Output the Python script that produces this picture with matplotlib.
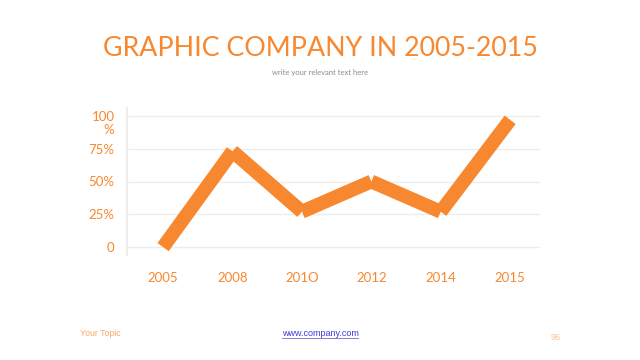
"""Recreate the orange line chart slide."""

import matplotlib.pyplot as plt
import matplotlib.transforms as mtransforms

years = ["2005", "2008", "201O", "2012", "2014", "2015"]
values = [0, 73, 27, 50, 27, 97]
y_ticks = [0, 25, 50, 75, 100]
y_tick_labels = ["0", "25%", "50%", "75%", "100\n%"]

ORANGE = "#F7882F"
GRID = "#EDEDED"

plt.rcParams["font.family"] = ["Lato", "DejaVu Sans"]

fig = plt.figure(figsize=(6.4, 3.6), dpi=100)
ax = fig.add_axes([127 / 640, 1 - 255 / 360, (540 - 127) / 640, (255 - 108) / 360])

xs = list(range(len(years)))
# draw each segment separately so joints show the notched look
for i in range(len(xs) - 1):
    ax.plot(xs[i:i + 2], values[i:i + 2], color=ORANGE, lw=10,
            solid_capstyle="butt", zorder=3)

ax.set_xlim(-0.52, 5.43)
ax.set_ylim(-6, 106)
ax.set_yticks(y_ticks)
ax.set_yticklabels(y_tick_labels)
ax.set_xticks(xs)
ax.set_xticklabels(years)
ax.tick_params(axis="both", length=0, colors=ORANGE, labelsize=9.5)
ax.tick_params(axis="y", pad=9)
ax.tick_params(axis="x", pad=12)
ax.grid(axis="y", color=GRID, lw=1)
ax.set_axisbelow(True)
for side in ["top", "right", "bottom"]:
    ax.spines[side].set_visible(False)
ax.spines["left"].set_color(GRID)
ax.spines["left"].set_linewidth(1.5)

# the wrapped "100 %" label sits with its first line on the gridline
top_label = ax.get_yticklabels()[-1]
top_label.set_verticalalignment("top")
top_label.set_multialignment("right")
top_label.set_linespacing(1.15)
top_label.set_transform(top_label.get_transform() +
                        mtransforms.ScaledTranslation(0, 5 / 100, fig.dpi_scale_trans))

fig.text(0.5, 1 - 48 / 360, "GRAPHIC COMPANY IN 2005-2015", ha="center",
         va="center", color=ORANGE, fontsize=19.3)
fig.text(0.5, 1 - 72 / 360, "write your relevant text here", ha="center",
         va="center", color="#8C8C8C", fontsize=5.5)
fig.text(80 / 640, 1 - 333 / 360, "Your Topic", ha="left", va="center",
         color="#F9A866", fontsize=6.3, family="Liberation Sans")
fig.text(0.5, 1 - 333 / 360, "www.company.com", ha="center", va="center",
         color="#3B3BD6", fontsize=6.5, family="Liberation Sans")
fig.add_artist(plt.Line2D([282 / 640, 358 / 640], [1 - 338 / 360] * 2,
                          color="#6B6BE0", lw=0.6))
fig.text(556 / 640, 1 - 337 / 360, "96", ha="center", va="center",
         color="#F9C49A", fontsize=6.5, family="Liberation Sans")

fig.savefig("out.png", dpi=100)
plt.close(fig)
